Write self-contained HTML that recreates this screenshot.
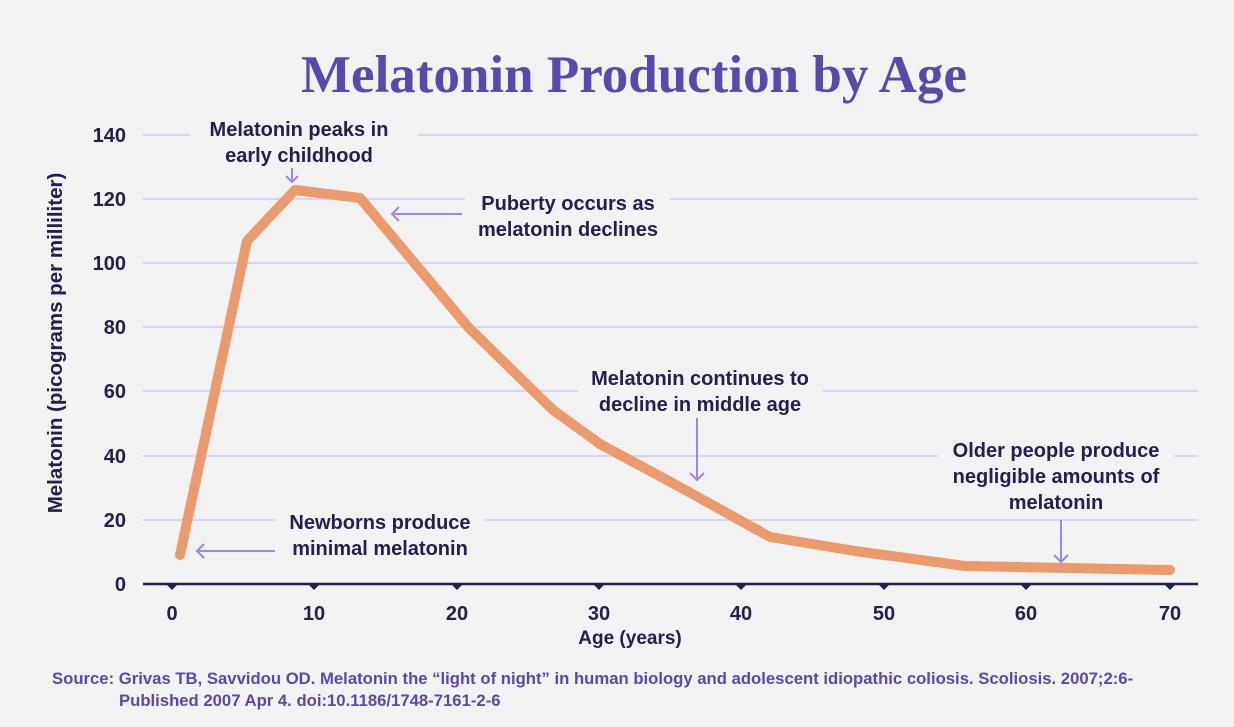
<!DOCTYPE html>
<html><head><style>
body{margin:0;background:#f2f2f2;}
svg{display:block}
.t{font-family:"Liberation Sans",sans-serif;font-weight:bold;fill:#23204f}
</style></head><body>
<svg width="1234" height="727" viewBox="0 0 1234 727">
<rect width="1234" height="727" fill="#f2f2f2"/>
<text x="634" y="92" text-anchor="middle" font-family="Liberation Serif,serif" font-weight="bold" font-size="53" fill="#5a49ad">Melatonin Production by Age</text>
<g stroke="#c9c3f5" stroke-width="1.2">
<line x1="143" y1="135" x2="1198" y2="135"/>
<line x1="143" y1="199" x2="1198" y2="199"/>
<line x1="143" y1="263" x2="1198" y2="263"/>
<line x1="143" y1="327" x2="1198" y2="327"/>
<line x1="143" y1="391" x2="1198" y2="391"/>
<line x1="143" y1="456" x2="1198" y2="456"/>
<line x1="143" y1="520" x2="1198" y2="520"/>
</g>
<g fill="#f2f2f2">
<rect x="190" y="112" width="228" height="58"/>
<rect x="465" y="185" width="205" height="60"/>
<rect x="578" y="362" width="245" height="58"/>
<rect x="938" y="433" width="236" height="82"/>
<rect x="275" y="506" width="210" height="56"/>
</g>
<g class="t" font-size="20" text-anchor="end">
<text x="126" y="142">140</text><text x="126" y="206">120</text><text x="126" y="270">100</text>
<text x="126" y="334">80</text><text x="126" y="398">60</text><text x="126" y="463">40</text>
<text x="126" y="527">20</text><text x="126" y="591">0</text>
</g>
<text class="t" font-size="20.5" transform="translate(62 343) rotate(-90)" text-anchor="middle">Melatonin (picograms per milliliter)</text>
<line x1="143" y1="584" x2="1198" y2="584" stroke="#23204f" stroke-width="2.5"/>
<g fill="#23204f">
<path d="M166 584h12l-6 6z"/><path d="M308 584h12l-6 6z"/><path d="M451 584h12l-6 6z"/><path d="M593 584h12l-6 6z"/>
<path d="M735 584h12l-6 6z"/><path d="M878 584h12l-6 6z"/><path d="M1020 584h12l-6 6z"/><path d="M1164 584h12l-6 6z"/>
</g>
<g class="t" font-size="20" text-anchor="middle">
<text x="172" y="620">0</text><text x="314" y="620">10</text><text x="457" y="620">20</text><text x="599" y="620">30</text>
<text x="741" y="620">40</text><text x="884" y="620">50</text><text x="1026" y="620">60</text><text x="1170" y="620">70</text>
<text x="630" y="644" font-size="19">Age (years)</text>
</g>
<polyline points="180,555 247,241 295,190 360,198 468,327 553,410 600,444 678,486 770,537 855,551 965,566 1170,570" fill="none" stroke="#eb9a6e" stroke-width="10" stroke-linejoin="round" stroke-linecap="round"/>
<g class="t" font-size="20" text-anchor="middle">
<text x="299" y="136">Melatonin peaks in</text><text x="299" y="162">early childhood</text>
<text x="568" y="210">Puberty occurs as</text><text x="568" y="236">melatonin declines</text>
<text x="700" y="385">Melatonin continues to</text><text x="700" y="411">decline in middle age</text>
<text x="1056" y="457">Older people produce</text><text x="1056" y="483">negligible amounts of</text><text x="1056" y="509">melatonin</text>
<text x="380" y="529">Newborns produce</text><text x="380" y="555">minimal melatonin</text>
</g>
<g stroke="#9a86f5" stroke-width="2" fill="none">
<path d="M292 168v14M286 176l6 6 6-6"/>
<path d="M462 214h-70M399 207l-7 7 7 7"/>
<path d="M697 418v62M690 473l7 7 7-7"/>
<path d="M1061 520v42M1054 555l7 7 7-7"/>
<path d="M275 551h-78M204 544l-7 7 7 7"/>
</g>
<g font-family="Liberation Sans,sans-serif" font-weight="bold" font-size="16.7" fill="#5a49ad">
<text x="52" y="684">Source: Grivas TB, Savvidou OD. Melatonin the “light of night” in human biology and adolescent idiopathic coliosis. Scoliosis. 2007;2:6-</text>
<text x="119" y="706">Published 2007 Apr 4. doi:10.1186/1748-7161-2-6</text>
</g>
</svg>
</body></html>
